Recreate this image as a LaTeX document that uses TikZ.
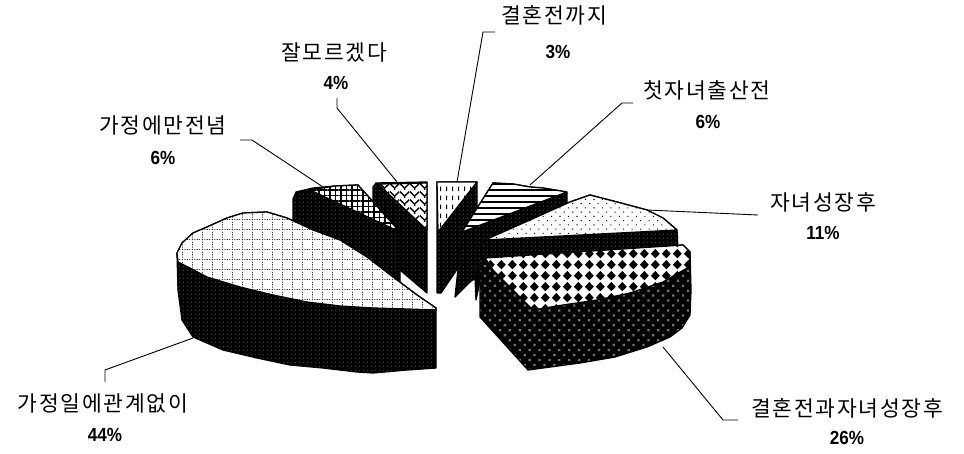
\documentclass[tikz,border=0pt]{standalone}
\usepackage{fontspec}
\setmainfont{Liberation Sans}
\newfontfamily\kr[LetterSpace=8]{Noto Sans CJK KR}
\newfontfamily\pct{Liberation Sans}
\usetikzlibrary{patterns,patterns.meta}

\pgfdeclarepatternformonly{vdash}{\pgfqpoint{0pt}{0pt}}{\pgfqpoint{6pt}{9pt}}{\pgfqpoint{6pt}{9pt}}{%
  \pgfsetlinewidth{1.2pt}%
  \pgfpathmoveto{\pgfqpoint{3pt}{2pt}}\pgfpathlineto{\pgfqpoint{3pt}{7pt}}%
  \pgfusepath{stroke}}

\pgfdeclarepatternformonly{diamonds}{\pgfqpoint{0pt}{0pt}}{\pgfqpoint{11.3pt}{10.8pt}}{\pgfqpoint{11.3pt}{10.8pt}}{%
  \pgfpathmoveto{\pgfqpoint{0.95pt}{5.4pt}}\pgfpathlineto{\pgfqpoint{5.65pt}{10.1pt}}\pgfpathlineto{\pgfqpoint{10.35pt}{5.4pt}}\pgfpathlineto{\pgfqpoint{5.65pt}{0.7pt}}\pgfpathclose
  \pgfusepath{fill}}

\pgfdeclarepatternformonly{scales}{\pgfqpoint{0pt}{0pt}}{\pgfqpoint{10pt}{8pt}}{\pgfqpoint{10pt}{8pt}}{%
  \pgfsetlinewidth{1.4pt}%
  \pgfpathmoveto{\pgfqpoint{0pt}{7pt}}\pgfpathlineto{\pgfqpoint{5pt}{2pt}}\pgfpathlineto{\pgfqpoint{10pt}{7pt}}%
  \pgfpathmoveto{\pgfqpoint{5pt}{2pt}}\pgfpathlineto{\pgfqpoint{5pt}{0pt}}%
  \pgfpathmoveto{\pgfqpoint{0pt}{7pt}}\pgfpathlineto{\pgfqpoint{0pt}{8pt}}%
  \pgfusepath{stroke}}

\pgfdeclarepatternformonly{dotgrid}{\pgfqpoint{0pt}{0pt}}{\pgfqpoint{9.6pt}{9.6pt}}{\pgfqpoint{9.6pt}{9.6pt}}{%
  \pgfsetlinewidth{1pt}\pgfsetdash{{1.2pt}{1.2pt}}{0pt}%
  \pgfpathmoveto{\pgfqpoint{0pt}{0.5pt}}\pgfpathlineto{\pgfqpoint{9.6pt}{0.5pt}}%
  \pgfpathmoveto{\pgfqpoint{0.5pt}{0pt}}\pgfpathlineto{\pgfqpoint{0.5pt}{9.6pt}}%
  \pgfusepath{stroke}}

\tikzset{
  outl/.style={draw=black, line width=1.3pt, line join=round},
  sidef/.style={outl, preaction={fill=black}, pattern={Dots[distance=4pt, radius=0.7pt]}, pattern color=black!72},
  sidebig/.style={outl, preaction={fill=black}, pattern={Dots[distance=7pt, angle=45, radius=1.6pt]}, pattern color=black!55},
  topwhite/.style={outl, preaction={fill=white}},
  krlab/.style={font=\kr\fontsize{21.5}{24}\selectfont, inner sep=0pt, anchor=center},
  pclab/.style={font=\pct\bfseries\fontsize{19}{22}\selectfont, inner sep=0pt, anchor=center, xscale=0.9},
  leader/.style={draw=black, line width=0.9pt}
}

\begin{document}
\begin{tikzpicture}[x=1pt,y=-1pt]
\useasboundingbox (0,0) rectangle (964,454);

% ---- 4% slice (잘모르겠다)
\path[sidef] (373,187) -- (376,183) -- (427,182) -- (427,293) -- (373,247) -- cycle;
\path[topwhite, pattern=scales] (378,184) -- (427,183) -- (427,230) -- cycle;

% ---- 6% slice (가정에만전념)
\path[sidef] (293,199) -- (296,192) -- (313,188) -- (335,186) -- (358,185) -- (400,232) -- (400,296) -- (297,256) -- (293,252) -- cycle;
\path[topwhite, pattern={Hatch[distance=5.5pt, line width=1.8pt]}] (310,190) -- (335,186) -- (358,185) -- (400,232) -- cycle;

% ---- 44% slice (가정일에관계없이)
\path[sidef] (436,308) -- (417,295) -- (393,277) -- (367,257) -- (340,240) -- (313,230) -- (287,218) -- (267,212) -- (243,213) -- (227,218) -- (207,227) -- (193,233) -- (182,243) -- (177,253) -- (178,290) -- (182,320) -- (193,337) -- (223,350) -- (257,358) -- (290,365) -- (323,368) -- (357,372) -- (373,373) -- (407,370) -- (436,368) -- cycle;
\path[topwhite, pattern=dotgrid, pattern color=black!80] (436,308) -- (417,295) -- (393,277) -- (367,257) -- (340,240) -- (313,230) -- (287,218) -- (267,212) -- (243,213) -- (227,218) -- (207,227) -- (193,233) -- (182,243) -- (177,253) -- (178,262) -- (190,268) -- (207,277) -- (240,287) -- (273,295) -- (307,302) -- (340,306) -- (373,308) -- (407,309) -- (436,310) -- cycle;

% ---- 3% slice (결혼전까지)
\path[sidef] (437,182) -- (477,182) -- (477,240) -- (441,293) -- (437,293) -- cycle;
\path[topwhite, pattern=vdash] (437,182) -- (477,182) -- (438,232) -- cycle;

% ---- 6% slice (첫자녀출산전)
\path[sidef] (493,183) -- (513,184) -- (530,187) -- (543,188) -- (567,192) -- (567,214) -- (470,282) -- (455,297) -- (462,232) -- cycle;
\path[topwhite, pattern={Lines[distance=6pt, line width=2pt]}] (493,183) -- (513,184) -- (530,187) -- (543,188) -- (567,192) -- (462,232) -- cycle;

% ---- 11% slice (자녀성장후)
\path[sidef] (485,240) -- (530,220) -- (570,202) -- (590,195) -- (617,202) -- (647,210) -- (663,218) -- (677,230) -- (678,250) -- (484,262) -- (476,300) -- (474,255) -- cycle;
\path[topwhite, pattern={Dots[distance=6pt, angle=45, radius=0.75pt]}] (485,240) -- (530,220) -- (570,202) -- (590,195) -- (617,202) -- (647,210) -- (663,218) -- (677,230) -- cycle;

% ---- 26% slice (결혼전과자녀성장후)
\path[sidebig] (480,260) -- (480,317) -- (528,370) -- (580,363) -- (615,357) -- (647,347) -- (670,337) -- (682,328) -- (690,315) -- (691,290) -- (690,252) -- (683,245) -- (485,258) -- cycle;
\path[topwhite, pattern=diamonds] (485,258) -- (683,245) -- (690,252) -- (689,267) -- (663,282) -- (630,293) -- (597,300) -- (563,305) -- (533,310) -- (513,290) -- (493,270) -- cycle;

% ---- labels
\node[krlab] (l3) at (554,15) {결혼전까지};
\node[pclab] (p3) at (558,52) {3\%};
\node[krlab] (l4) at (334,52) {잘모르겠다};
\node[pclab] (p4) at (336,83) {4\%};
\node[krlab] (l6a) at (707,90) {첫자녀출산전};
\node[pclab] (p6a) at (708,122) {6\%};
\node[krlab] (l11) at (823,202) {자녀성장후};
\node[pclab] (p11) at (823,233) {11\%};
\node[krlab] (l6b) at (163,125) {가정에만전념};
\node[pclab] (p6b) at (163,158) {6\%};
\node[krlab] (l44) at (103,403) {가정일에관계없이};
\node[pclab] (p44) at (105,435) {44\%};
\node[krlab] (l26) at (847,408) {결혼전과자녀성장후};
\node[pclab] (p26) at (847,438) {26\%};

% ---- leader lines
\coordinate (a3) at (495,32);  \coordinate (b3) at (483,32);  \coordinate (c3) at (457,182);
\coordinate (a4) at (337,98);  \coordinate (b4) at (337,108); \coordinate (c4) at (397,182);
\coordinate (a6a) at (633,103); \coordinate (b6a) at (622,103); \coordinate (c6a) at (530,185);
\coordinate (a11) at (758,215); \coordinate (c11) at (647,210);
\coordinate (a6b) at (240,140); \coordinate (b6b) at (252,140); \coordinate (c6b) at (323,187);
\coordinate (a44) at (105,382); \coordinate (b44) at (105,370); \coordinate (c44) at (193,338);
\coordinate (a26) at (738,420); \coordinate (b26) at (723,420); \coordinate (c26) at (663,347);

\draw[leader] (a3) -- (b3) -- (c3);
\draw[leader] (a4) -- (b4) -- (c4);
\draw[leader] (a6a) -- (b6a) -- (c6a);
\draw[leader] (a11) -- (c11);
\draw[leader] (a6b) -- (b6b) -- (c6b);
\draw[leader] (a44) -- (b44) -- (c44);
\draw[leader] (a26) -- (b26) -- (c26);
\end{tikzpicture}
\end{document}
